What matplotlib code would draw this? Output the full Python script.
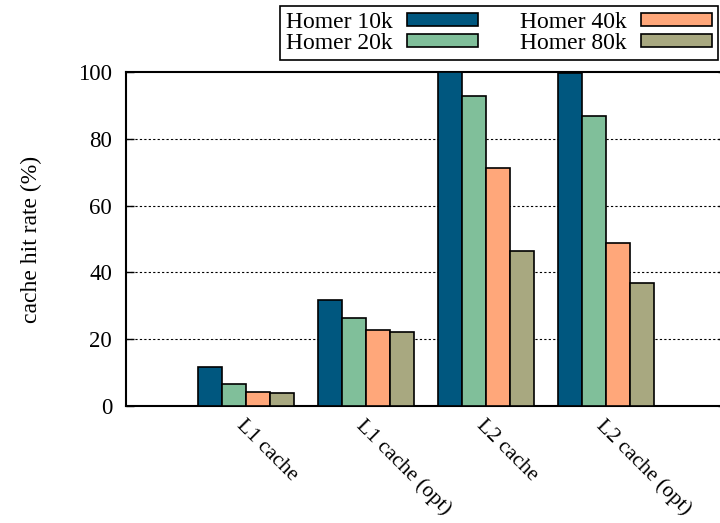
import numpy as np
import matplotlib.pyplot as plt
from matplotlib.patches import Patch

categories = ['L1 cache', 'L1 cache (opt)', 'L2 cache', 'L2 cache (opt)']
series_names = ['Homer 10k', 'Homer 20k', 'Homer 40k', 'Homer 80k']
homer_10k = [11.8, 31.7, 99.9, 99.6]
homer_20k = [6.7, 26.3, 92.9, 86.9]
homer_40k = [4.3, 22.7, 71.3, 48.9]
homer_80k = [3.8, 22.1, 46.3, 36.9]
colors = ['#00577f', '#80bf9a', '#ffa77a', '#a8a880']

plt.rcParams['font.family'] = ['Liberation Serif', 'DejaVu Serif']

fig = plt.figure(figsize=(7.2, 5.23), dpi=100)
ax = fig.add_axes([0.175, 0.2237, 0.8333, 0.6386])

x = np.arange(len(categories))
width = 0.2
all_series = [homer_10k, homer_20k, homer_40k, homer_80k]
for i, (vals, name, c) in enumerate(zip(all_series, series_names, colors)):
    ax.bar(x + (i - 1.5) * width, vals, width, color=c, edgecolor='black',
           linewidth=1.2, label=name, zorder=3)

ax.set_xlim(-1, 4)
ax.set_ylim(0, 100)
ax.set_yticks([0, 20, 40, 60, 80, 100])
ax.tick_params(axis='y', direction='in', length=6, width=1, pad=10,
               labelsize=16.5, right=True)
ax.set_xticks(x)
ax.set_xticklabels(categories, rotation=-45, ha='left', va='top',
                   rotation_mode='anchor', fontsize=15.5)
ax.tick_params(axis='x', length=0, pad=7)

# dotted grid at the inner ticks only
for yv in [20, 40, 60, 80]:
    ax.axhline(yv, color='black', linewidth=0.8, linestyle=(0, (2, 2)), zorder=1)

for s in ax.spines.values():
    s.set_linewidth(1.5)

ax.set_ylabel('cache hit rate (%)', fontsize=17, labelpad=26)

handles = [Patch(facecolor=c, edgecolor='black', linewidth=1.2) for c in colors]
leg = fig.legend(handles, series_names, ncol=2, loc='upper right',
                 bbox_to_anchor=(718 / 720, 1 - 6 / 523), borderaxespad=0,
                 fontsize=17, markerfirst=False, handlelength=3.0,
                 handleheight=0.5, handletextpad=0.6, columnspacing=1.8,
                 labelspacing=0.0, borderpad=0.25, fancybox=False,
                 framealpha=1, edgecolor='black')
leg.get_frame().set_linewidth(1.2)

fig.savefig('out.png', dpi=100)
